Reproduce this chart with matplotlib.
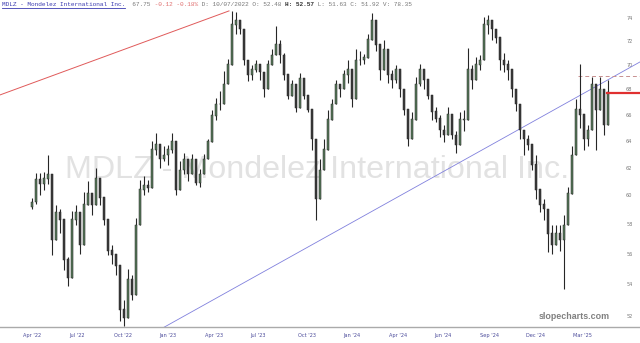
import matplotlib

matplotlib.use("Agg")
import matplotlib.pyplot as plt
from matplotlib.lines import Line2D

# MDLZ, one candle per ~week (open = previous close)
first_open = 59.2
closes = [
    59.5, 61.1, 60.8, 61.2, 61.5, 56.9, 58.8, 58.3, 55.6, 54.4,
    58.3, 58.8, 56.6, 59.3, 60.1, 59.3, 61.2, 59.8, 58.3, 56.2,
    55.9, 55.2, 52.4, 51.9, 54.3, 53.3, 57.9, 60.4, 60.7, 60.5,
    63.3, 63.7, 62.6, 62.9, 63.3, 63.9, 60.4, 61.8, 62.6, 61.5,
    62.6, 60.9, 61.5, 62.6, 63.9, 65.9, 66.8, 66.8, 68.4, 70.0,
    73.4, 73.8, 73.0, 70.4, 69.2, 69.6, 70.0, 69.4, 68.0, 70.0,
    70.8, 71.7, 70.8, 69.2, 67.5, 68.4, 66.5, 68.9, 67.5, 66.4,
    64.1, 59.7, 61.8, 63.3, 65.6, 66.8, 68.4, 68.0, 69.2, 69.6,
    67.2, 70.4, 70.4, 70.6, 72.1, 73.8, 71.7, 69.6, 71.3, 69.2,
    68.8, 69.6, 68.0, 66.4, 64.1, 65.6, 68.4, 69.6, 68.8, 67.5,
    66.2, 65.7, 64.8, 64.4, 66.0, 64.4, 63.7, 65.6, 65.6, 69.6,
    68.8, 70.0, 70.4, 73.4, 73.8, 73.0, 72.3, 70.4, 70.0, 69.6,
    68.0, 66.8, 64.8, 64.1, 63.7, 62.2, 60.4, 59.3, 59.0, 57.3,
    56.6, 57.3, 56.9, 57.9, 60.1, 62.9, 66.4, 66.0, 64.1, 64.8,
    68.4, 66.4, 68.0, 65.2, 67.75,
]
highs = [
    59.8, 61.6, 61.6, 61.7, 62.9, 61.5, 59.3, 59.0, 58.3, 55.8,
    58.9, 59.3, 58.8, 60.2, 61.0, 60.1, 62.0, 61.2, 59.8, 58.3,
    56.6, 56.0, 55.2, 53.0, 55.0, 54.6, 58.4, 61.1, 61.4, 61.1,
    64.0, 64.6, 63.7, 63.6, 63.7, 64.6, 63.9, 62.5, 63.1, 62.6,
    63.0, 62.6, 61.9, 63.0, 64.1, 66.4, 67.3, 67.9, 69.5, 70.5,
    74.6, 74.5, 73.8, 73.0, 70.4, 70.0, 70.4, 70.0, 69.4, 70.4,
    71.3, 73.3, 72.1, 71.0, 69.2, 68.8, 68.4, 69.3, 68.9, 67.5,
    66.4, 64.1, 62.6, 64.1, 66.4, 67.2, 68.8, 68.4, 69.6, 70.4,
    69.6, 71.3, 71.2, 70.9, 72.6, 74.4, 73.8, 71.7, 72.1, 71.3,
    69.6, 70.0, 69.6, 68.0, 66.4, 66.2, 69.0, 70.1, 69.6, 68.8,
    67.5, 66.6, 66.0, 65.2, 66.6, 66.0, 64.7, 66.2, 66.4, 71.4,
    70.0, 70.7, 70.8, 74.1, 74.3, 73.8, 73.0, 72.3, 71.0, 70.4,
    69.6, 68.0, 66.8, 64.8, 64.4, 63.7, 62.9, 60.4, 59.7, 59.0,
    57.9, 57.9, 57.9, 58.6, 60.6, 63.6, 67.2, 70.1, 66.0, 65.2,
    69.0, 68.4, 69.0, 68.0, 68.8,
]
lows = [
    59.0, 59.4, 60.0, 60.4, 60.8, 55.9, 56.9, 57.4, 54.9, 53.9,
    54.4, 57.9, 56.0, 56.6, 59.3, 58.6, 59.3, 59.3, 57.9, 55.9,
    55.3, 54.6, 51.7, 51.4, 51.9, 53.0, 53.3, 57.9, 60.0, 60.2,
    60.5, 62.9, 62.0, 62.5, 62.2, 63.1, 60.0, 60.4, 61.5, 61.0,
    61.5, 60.7, 60.6, 61.5, 62.6, 63.9, 65.6, 66.4, 66.8, 68.4,
    70.0, 72.6, 72.6, 70.0, 68.7, 68.8, 69.4, 68.8, 67.4, 68.0,
    70.0, 70.8, 70.2, 68.8, 67.2, 67.5, 66.2, 66.5, 67.2, 66.2,
    63.3, 58.3, 59.7, 61.8, 63.3, 65.6, 66.8, 67.4, 68.0, 68.5,
    66.6, 67.2, 70.0, 70.1, 70.6, 72.1, 71.2, 68.8, 69.6, 68.5,
    68.1, 68.5, 67.4, 66.0, 63.6, 64.1, 65.6, 68.3, 68.0, 67.2,
    65.6, 65.4, 64.3, 63.9, 64.4, 64.1, 63.1, 63.7, 64.7, 65.6,
    68.0, 68.8, 69.6, 70.4, 72.6, 72.1, 71.8, 69.6, 69.4, 68.8,
    67.4, 66.3, 64.1, 62.9, 63.3, 61.8, 59.7, 58.8, 58.3, 56.1,
    56.0, 56.6, 56.2, 53.7, 57.9, 60.1, 62.9, 65.0, 63.3, 63.6,
    64.8, 63.3, 66.4, 64.4, 65.2,
]

tick_labels = ["Apr '22", "Jul '22", "Oct '22", "Jan '23", "Apr '23", "Jul '23",
               "Oct '23", "Jan '24", "Apr '24", "Jun '24", "Sep '24", "Dec '24",
               "Mar '25"]
tick_pos = [-0.1, 11.25, 22.75, 34.0, 45.5, 56.5, 68.75, 80.0, 91.5, 102.75,
            114.5, 125.75, 137.5]
price_ticks = [52, 54, 56, 58, 60, 62, 64, 66, 68, 70, 72, 74]

# drawn trend lines and levels
red_trend_x = [-8, 49.25]
red_trend_y = [67.56, 74.62]
blue_trend_x = [32.75, 152]
blue_trend_y = [51.29, 70.25]
resist_x = [136.5, 152]
resist_level = 69.05
last_x = [143.75, 152]
last_price = 67.75

header_pieces = [
    ("MDLZ - Mondelez International Inc.", "#3a3ab0", "normal"),
    ("  67.75", "#777777", "normal"),
    (" -0.12 -0.18%", "#e07070", "normal"),
    (" D: 10/07/2022 O: 52.48 ", "#777777", "normal"),
    ("H: 52.57", "#333333", "bold"),
    (" L: 51.63 C: 51.92 V: 78.35", "#777777", "normal"),
]

W, H = 640, 343
fig = plt.figure(figsize=(W / 100, H / 100), dpi=100)
ax = fig.add_axes([0, 16 / H, 1, 327 / H])
ax.set_yscale("log")
ax.set_xlim(-8, 152)
ax.set_ylim(51.34, 75.59)

# watermark
ax.text(0.496, 0.48, "MDLZ - Mondelez International Inc.", transform=ax.transAxes,
        ha="center", va="center", fontsize=23.2, color="#e2e2e2",
        family="Liberation Sans", zorder=0)

# candles
opens = [first_open] + closes[:-1]
for i, (o, c, h, l) in enumerate(zip(opens, closes, highs, lows)):
    up = c >= o
    ax.vlines(i, l, h, color="#262626", lw=0.8, zorder=3)
    ax.bar(i, abs(c - o) + 0.05, bottom=min(o, c), width=0.5,
           color="#587a5a" if up else "#3a3a3a", edgecolor="#262626",
           linewidth=0.35, zorder=4)

ax.plot(red_trend_x, red_trend_y, color="#e05a5a", lw=0.7, zorder=2)
ax.plot(blue_trend_x, blue_trend_y, color="#8080dd", lw=0.6, zorder=2)
ax.plot(resist_x, [resist_level] * 2, color="#c89090", lw=0.7,
        linestyle=(0, (4, 3)), zorder=2)
ax.plot(last_x, [last_price] * 2, color="#e03030", lw=1.6, zorder=5)

ax.yaxis.tick_right()
ax.set_yticks(price_ticks)
ax.set_yticklabels([str(p) for p in price_ticks])
ax.yaxis.set_minor_locator(matplotlib.ticker.NullLocator())
ax.tick_params(axis="y", length=0, pad=-10, labelsize=3.6, labelcolor="#777777")
ax.set_xticks(tick_pos)
ax.set_xticklabels(tick_labels)
ax.tick_params(axis="x", length=0, pad=4, labelsize=3.6, labelcolor="#4a4a9a")

for side in ("top", "left", "right"):
    ax.spines[side].set_visible(False)
ax.spines["bottom"].set_color("#aaaaaa")
ax.spines["bottom"].set_linewidth(1.0)

ax.text(0.953, 0.017, "slopecharts.com", transform=ax.transAxes, ha="right",
        va="bottom", fontsize=6.4, fontweight="bold", color="#808080",
        family="Liberation Sans")

# header, laid out piece by piece
renderer = fig.canvas.get_renderer()
x = 2
for idx, (text, color, weight) in enumerate(header_pieces):
    t = fig.text(x / W, (H - 5) / H, text, color=color, fontweight=weight,
                 family="Liberation Mono", fontsize=4.4, ha="left", va="center")
    bb = t.get_window_extent(renderer)
    if idx == 0:
        fig.add_artist(Line2D([bb.x0 / W, bb.x1 / W], [(bb.y0 - 0.8) / H] * 2,
                              color=color, lw=0.6))
    x = bb.x1

fig.savefig("out.png", dpi=100)
